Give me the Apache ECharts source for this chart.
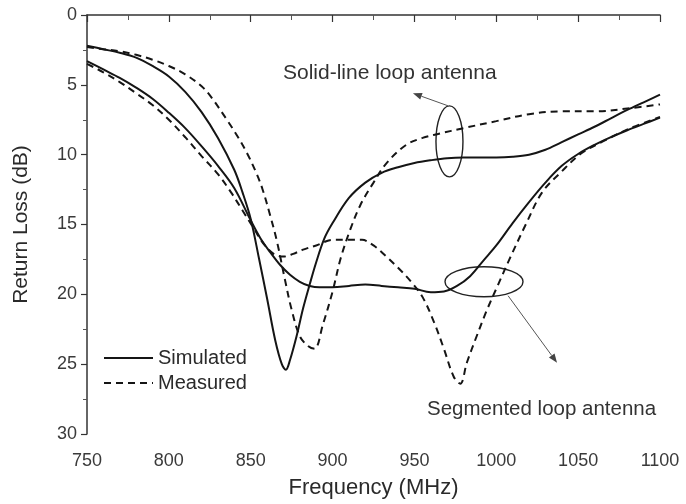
<!DOCTYPE html>
<html>
<head>
<meta charset="utf-8">
<script src="https://cdn.jsdelivr.net/npm/echarts@6/dist/echarts.min.js"></script>
<style>
  html, body { margin: 0; padding: 0; background: #fff; }
  #chart { width: 686px; height: 504px; }
</style>
</head>
<body>
<div id="chart"></div>
<script>
// solid-line loop antenna, simulated
const slSimFreq = [750, 760, 770, 780, 790, 800, 810, 820, 830, 840, 845, 850, 855, 860, 865, 869, 871.5, 874, 878, 882, 886, 890, 895, 900, 910, 920, 930, 940, 950, 960, 970, 980, 990, 1000, 1010, 1020, 1030, 1040, 1050, 1060, 1070, 1080, 1090, 1100]
const slSimLoss = [2.2, 2.45, 2.7, 3.05, 3.65, 4.4, 5.5, 6.95, 8.8, 11.1, 12.7, 14.6, 17.4, 20.3, 23.3, 25.0, 25.4, 24.7, 23.0, 21.0, 19.3, 17.7, 16.0, 14.9, 13.1, 12.0, 11.3, 10.9, 10.6, 10.4, 10.25, 10.2, 10.2, 10.2, 10.15, 10.0, 9.65, 9.1, 8.55, 8.0, 7.4, 6.8, 6.25, 5.7]

// solid-line loop antenna, measured
const slMeasFreq = [750, 760, 770, 780, 790, 800, 810, 820, 826, 836, 842, 848, 853, 857, 862, 866, 871, 875, 880, 885, 889, 894, 900, 905, 911, 917, 925, 933, 945, 955, 965, 980, 1000, 1020, 1040, 1060, 1080, 1100]
const slMeasLoss = [2.3, 2.45, 2.6, 2.85, 3.2, 3.65, 4.25, 5.1, 5.9, 7.6, 8.7, 9.95, 11.2, 12.4, 14.4, 16.2, 19.0, 21.1, 23.0, 23.7, 23.9, 22.2, 19.8, 17.4, 15.3, 13.6, 12.0, 10.6, 9.3, 8.8, 8.5, 8.1, 7.6, 7.1, 6.9, 6.9, 6.7, 6.4]

// segmented loop antenna, simulated
const segSimFreq = [750, 760, 770, 780, 790, 800, 810, 820, 830, 840, 850, 856, 862, 868, 874, 880, 886, 892, 900, 910, 920, 930, 940, 950, 960, 968, 976, 984, 992, 1000, 1010, 1020, 1030, 1040, 1050, 1060, 1070, 1080, 1090, 1100]
const segSimLoss = [3.3, 3.9, 4.5, 5.2, 6.0, 7.0, 8.1, 9.4, 10.8, 12.4, 14.7, 16.0, 17.0, 17.9, 18.6, 19.1, 19.4, 19.5, 19.5, 19.4, 19.3, 19.4, 19.5, 19.6, 19.85, 19.8, 19.4, 18.7, 17.6, 16.5, 14.9, 13.4, 12.0, 10.8, 9.95, 9.3, 8.75, 8.25, 7.8, 7.35]

// segmented loop antenna, measured
const segMeasFreq = [750, 760, 770, 780, 790, 800, 810, 820, 830, 838, 845, 852, 858, 864, 870, 876, 882, 890, 900, 910, 918, 925, 932, 940, 948, 955, 962, 968, 974, 978, 982, 988, 994, 1000, 1008, 1018, 1028, 1040, 1052, 1066, 1082, 1100]
const segMeasLoss = [3.5, 4.1, 4.8, 5.6, 6.45, 7.5, 8.75, 10.1, 11.4, 12.7, 14.0, 15.3, 16.4, 17.1, 17.3, 17.1, 16.8, 16.5, 16.1, 16.1, 16.1, 16.5, 17.2, 18.1, 19.1, 20.2, 22.0, 23.9, 25.9, 26.4, 24.9, 23.0, 21.2, 19.6, 17.5, 15.0, 12.7, 11.2, 9.9, 9.0, 8.1, 7.3]

const legendNames = ['Simulated', 'Measured']

const FONT = '"Liberation Sans", Arial, Helvetica, sans-serif'
const INK = '#151515'

function pairs (freq, loss) {
  return freq.map((f, i) => [f, loss[i]])
}

function curve (name, freq, loss, dashed) {
  return {
    name: name,
    type: 'line',
    data: pairs(freq, loss),
    symbol: 'none',
    smooth: 0.35,
    silent: true,
    itemStyle: { color: INK },
    lineStyle: { color: INK, width: 2, type: dashed ? [7, 5] : 'solid' }
  }
}

const chart = echarts.init(document.getElementById('chart'))

chart.setOption({
  animation: false,
  textStyle: { fontFamily: FONT },
  grid: { left: 87, right: 26, top: 15, bottom: 69 },
  legend: {
    data: legendNames,
    orient: 'vertical',
    left: 103,
    top: 348,
    padding: 0,
    itemWidth: 49,
    itemHeight: 14,
    itemGap: 5,
    itemStyle: { opacity: 0 },
    textStyle: { fontFamily: FONT, fontSize: 20, color: '#2a2a2a' }
  },
  xAxis: {
    type: 'value',
    min: 750,
    max: 1100,
    interval: 50,
    name: 'Frequency (MHz)',
    nameLocation: 'middle',
    nameGap: 43,
    nameTextStyle: { fontFamily: FONT, fontSize: 22, color: '#2a2a2a' },
    axisLine: { lineStyle: { color: '#333', width: 1.5 } },
    axisTick: { length: 7, lineStyle: { color: '#333', width: 1.2 } },
    minorTick: { show: true, splitNumber: 2, length: 5, lineStyle: { color: '#555' } },
    axisLabel: { margin: 18, fontSize: 18, color: '#3a3a3a', fontFamily: FONT, formatter: v => String(v) },
    splitLine: { show: false }
  },
  yAxis: {
    type: 'value',
    inverse: true,
    min: 0,
    max: 30,
    interval: 5,
    name: 'Return Loss (dB)',
    nameLocation: 'middle',
    nameGap: 55,
    nameTextStyle: { fontFamily: FONT, fontSize: 21, color: '#2a2a2a' },
    axisLine: { show: true, lineStyle: { color: '#333', width: 1.5 } },
    axisTick: { show: true, length: 6, lineStyle: { color: '#333', width: 1.2 } },
    minorTick: { show: true, splitNumber: 2, length: 4, lineStyle: { color: '#555' } },
    axisLabel: { margin: 10, fontSize: 18, color: '#3a3a3a', fontFamily: FONT },
    splitLine: { show: false }
  },
  series: [
    curve('Simulated', slSimFreq, slSimLoss, false),
    curve('Measured', slMeasFreq, slMeasLoss, true),
    curve('Simulated', segSimFreq, segSimLoss, false),
    curve('Measured', segMeasFreq, segMeasLoss, true)
  ]
})

// annotations, anchored in data coordinates
const toPx = p => chart.convertToPixel({ gridIndex: 0 }, p)

function arrow (from, to) {
  const a = toPx(from)
  const b = toPx(to)
  const ang = Math.atan2(b[1] - a[1], b[0] - a[0])
  const len = 9
  const half = 3.5
  const base = [b[0] - len * Math.cos(ang), b[1] - len * Math.sin(ang)]
  const nx = -Math.sin(ang) * half
  const ny = Math.cos(ang) * half
  return [
    { type: 'line', shape: { x1: a[0], y1: a[1], x2: base[0], y2: base[1] }, style: { stroke: '#555', lineWidth: 1 } },
    { type: 'polygon', shape: { points: [b, [base[0] + nx, base[1] + ny], [base[0] - nx, base[1] - ny]] }, style: { fill: '#444' } }
  ]
}

function ring (center, rx, ry) {
  const c = toPx(center)
  return { type: 'ellipse', shape: { cx: c[0], cy: c[1], rx: rx, ry: ry }, style: { fill: null, stroke: '#222', lineWidth: 1.4 } }
}

function label (at, text, size) {
  const p = toPx(at)
  return { type: 'text', x: p[0], y: p[1], style: { text: text, fill: '#333', font: size + 'px ' + FONT, verticalAlign: 'middle' } }
}

chart.setOption({
  graphic: [
    ring([971.4, 9.05], 13.5, 35.5),
    ...arrow([970.5, 6.5], [949.1, 5.6]),
    ring([992.5, 19.1], 39, 15),
    ...arrow([1007.2, 20.1], [1037.1, 24.9]),
    label([869.7, 4.2], 'Solid-line loop antenna', 21),
    label([957.7, 28.2], 'Segmented loop antenna', 20.5)
  ]
})
</script>
</body>
</html>
